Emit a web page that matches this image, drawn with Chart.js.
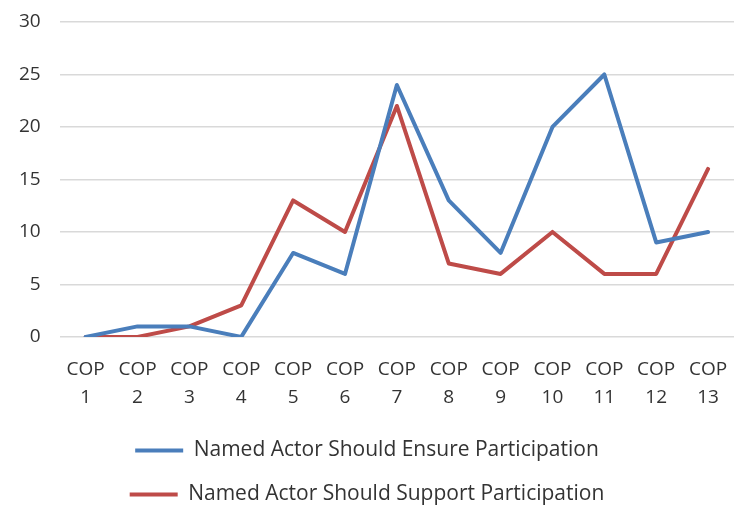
<!DOCTYPE html>
<head>
    <meta charset="UTF-8">
    <title>COP Participation</title>
    <script src="https://cdn.jsdelivr.net/npm/chart.js@4"></script>
    <style>
        html, body { margin: 0; padding: 0; background: #fff; }
        #wrap { width: 734px; height: 506px; }
    </style>
</head>
<body>
    <div id="wrap"><canvas id="copChart"></canvas></div>

    <script>
        // chart data
        var copLabels = [['COP', '1'], ['COP', '2'], ['COP', '3'], ['COP', '4'], ['COP', '5'], ['COP', '6'], ['COP', '7'],
                         ['COP', '8'], ['COP', '9'], ['COP', '10'], ['COP', '11'], ['COP', '12'], ['COP', '13']];
        var ensureValues = [0, 1, 1, 0, 8, 6, 24, 13, 8, 20, 25, 9, 10];
        var supportValues = [0, 0, 1, 3, 13, 10, 22, 7, 6, 10, 6, 6, 16];
        var yTicks = [0, 5, 10, 15, 20, 25, 30];

        var textColor = '#333333';
        var fontFamily = '"Open Sans", sans-serif';

        var ctx = document.getElementById('copChart').getContext('2d');
        var copChart = new Chart(ctx, {
            type: 'line',
            data: {
                labels: copLabels,
                datasets: [{
                    label: 'Named Actor Should Ensure Participation',
                    data: ensureValues,
                    borderColor: '#4a7ebb',
                    backgroundColor: '#4a7ebb',
                    borderWidth: 4,
                    borderJoinStyle: 'round',
                    borderCapStyle: 'round',
                    pointRadius: 0,
                    pointStyle: 'line',
                    tension: 0
                }, {
                    label: 'Named Actor Should Support Participation',
                    data: supportValues,
                    borderColor: '#be4b48',
                    backgroundColor: '#be4b48',
                    borderWidth: 4,
                    borderJoinStyle: 'round',
                    borderCapStyle: 'round',
                    pointRadius: 0,
                    pointStyle: 'line',
                    tension: 0
                }]
            },
            options: {
                responsive: true,
                maintainAspectRatio: false,
                animation: false,
                layout: { padding: { top: 22, left: 0, right: 0, bottom: -9 } },
                plugins: {
                    tooltip: { enabled: false },
                    legend: {
                        position: 'bottom',
                        labels: {
                            color: textColor,
                            font: { family: fontFamily, size: 21 },
                            usePointStyle: true,
                            pointStyleWidth: 48,
                            padding: 23
                        }
                    }
                },
                scales: {
                    x: {
                        offset: true,
                        grid: { display: false, drawTicks: false },
                        border: { display: false },
                        ticks: {
                            color: textColor,
                            font: { family: fontFamily, size: 19, lineHeight: 1.45 },
                            padding: 19,
                            maxRotation: 0,
                            autoSkip: false
                        },
                        afterFit: function (axis) {
                            axis.paddingLeft = 0;
                            axis.paddingRight = 0;
                            axis.height -= 13;
                        }
                    },
                    y: {
                        min: 0,
                        max: 30,
                        afterBuildTicks: function (axis) {
                            axis.ticks = yTicks.map(function (v) { return { value: v }; });
                        },
                        grid: { color: '#d9d9d9', lineWidth: 1.5, drawTicks: false },
                        border: { display: false },
                        ticks: {
                            color: textColor,
                            font: { family: fontFamily, size: 19 },
                            padding: 19
                        },
                        afterFit: function (axis) {
                            axis.paddingTop = 0;
                            axis.paddingBottom = 0;
                        }
                    }
                }
            }
        });
    </script>
</body>
